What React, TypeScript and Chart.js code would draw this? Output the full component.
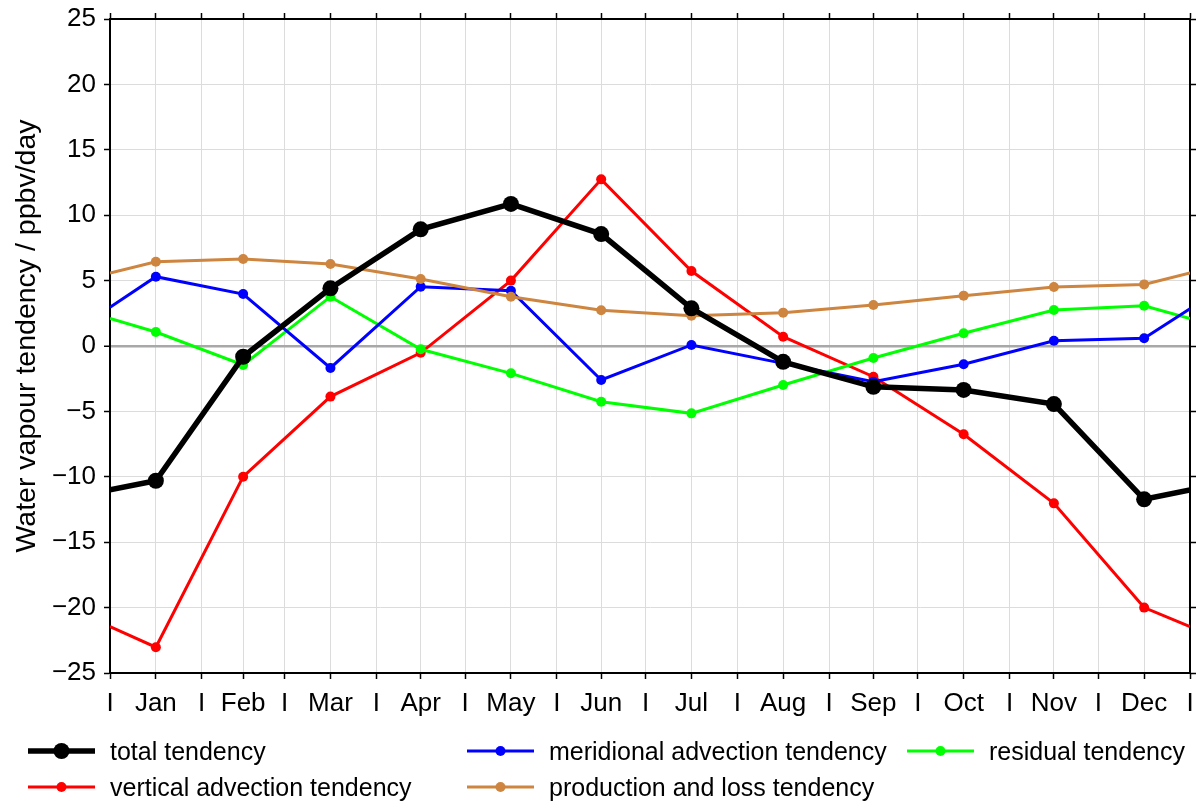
import React, { useEffect, useRef } from 'react';
import { Chart, registerables } from 'chart.js';

Chart.register(...registerables);

// ---- data ----
const MONTHS = ['Jan', 'Feb', 'Mar', 'Apr', 'May', 'Jun', 'Jul', 'Aug', 'Sep', 'Oct', 'Nov', 'Dec'];
const MONTH_BOUNDS = [0, 31, 59, 90, 120, 151, 181, 212, 243, 273, 304, 334, 365];
const MONTH_MIDS = [15.5, 45, 74.5, 105, 135.5, 166, 196.5, 227.5, 258, 288.5, 319, 349.5];
// x positions: left edge, 12 month midpoints, right edge (day of year)
const X_POS = [0, ...MONTH_MIDS, 365];

const TOTAL = [-11.0, -10.3, -0.82, 4.41, 8.92, 10.86, 8.56, 2.88, -1.21, -3.12, -3.36, -4.44, -11.72, -11.0];
const MERIDIONAL = [2.96, 5.3, 3.97, -1.68, 4.53, 4.23, -2.6, 0.08, -1.33, -2.73, -1.4, 0.4, 0.59, 2.85];
const RESIDUAL = [2.1, 1.07, -1.45, 3.77, -0.25, -2.09, -4.26, -5.15, -2.98, -0.92, 0.97, 2.75, 3.08, 2.1];
const VERTICAL = [-21.45, -23.03, -9.99, -3.87, -0.52, 5.0, 12.74, 5.73, 0.71, -2.35, -6.75, -12.03, -20.0, -21.45];
const PRODLOSS = [5.58, 6.44, 6.65, 6.27, 5.12, 3.77, 2.73, 2.32, 2.55, 3.13, 3.85, 4.51, 4.71, 5.58];

const Y_MIN = -25;
const Y_MAX = 25;
const Y_STEP = 5;
const Y_TITLE = 'Water vapour tendency / ppbv/day';

const FONT = "'Liberation Sans', Arial, Helvetica, sans-serif";

// combined x ticks: month boundaries (labelled "I") and midpoints (month names)
const X_TICKS: { value: number; label: string }[] = [];
MONTH_BOUNDS.forEach((b, i) => {
  X_TICKS.push({ value: b, label: 'I' });
  if (i < MONTH_MIDS.length) X_TICKS.push({ value: MONTH_MIDS[i], label: MONTHS[i] });
});

const SERIES = [
  { label: 'total tendency', data: TOTAL, color: '#000000', width: 5.5, radius: 8, order: 0 },
  { label: 'meridional advection tendency', data: MERIDIONAL, color: '#0000ff', width: 3, radius: 5, order: 2 },
  { label: 'residual tendency', data: RESIDUAL, color: '#00ff00', width: 3, radius: 5, order: 3 },
  { label: 'vertical advection tendency', data: VERTICAL, color: '#ff0000', width: 3, radius: 5, order: 4 },
  { label: 'production and loss tendency', data: PRODLOSS, color: '#cd853f', width: 3, radius: 5, order: 1 },
];

const LEGEND_POS = [
  { x: 28, y: 751 },
  { x: 467, y: 751 },
  { x: 907, y: 751 },
  { x: 28, y: 787 },
  { x: 467, y: 787 },
];

const fmtY = (v: number) => (v < 0 ? '\u2212' + Math.abs(v) : String(v));

// draws the y-axis title centred where the reference has it
const yTitlePlugin = {
  id: 'yTitle',
  afterDraw(chart: any) {
    const ctx = chart.ctx;
    ctx.save();
    ctx.translate(27, 336);
    ctx.rotate(-Math.PI / 2);
    ctx.font = `28.5px ${FONT}`;
    ctx.fillStyle = '#000';
    ctx.textAlign = 'center';
    ctx.textBaseline = 'middle';
    ctx.fillText(Y_TITLE, 0, 0);
    ctx.restore();
  },
};

export default function App() {
  const ref = useRef<HTMLCanvasElement>(null);

  useEffect(() => {
    const canvas = ref.current;
    if (!canvas) return;
    const setXTicks = (scale: any) => {
      scale.ticks = X_TICKS.map((t) => ({ value: t.value }));
    };
    const chart = new Chart(canvas, {
      type: 'line',
      data: {
        datasets: SERIES.map((s) => ({
          label: s.label,
          data: s.data.map((y, i) => ({ x: X_POS[i], y })),
          borderColor: s.color,
          backgroundColor: s.color,
          borderWidth: s.width,
          pointRadius: (ctx: any) => (ctx.dataIndex === 0 || ctx.dataIndex === s.data.length - 1 ? 0 : s.radius),
          pointHoverRadius: 0,
          pointBorderWidth: 0,
          pointBackgroundColor: s.color,
          tension: 0,
          fill: false,
          order: s.order,
        })),
      },
      plugins: [yTitlePlugin],
      options: {
        responsive: false,
        animation: false,
        devicePixelRatio: 1,
        layout: { padding: 0 },
        plugins: {
          legend: { display: false },
          tooltip: { enabled: false },
        },
        scales: {
          x: {
            type: 'linear',
            position: 'bottom',
            min: 0,
            max: 365,
            afterBuildTicks: setXTicks,
            afterFit: (scale: any) => {
              scale.height = 804 - 673;
              scale.paddingLeft = 0;
              scale.paddingRight = 0;
            },
            ticks: {
              autoSkip: false,
              maxRotation: 0,
              minRotation: 0,
              padding: 9,
              color: '#000',
              font: { family: FONT, size: 26 },
              callback: (_v: any, i: number) => X_TICKS[i]?.label ?? '',
            },
            grid: {
              color: '#dcdcdc',
              lineWidth: 1,
              tickColor: '#000',
              tickLength: 6,
              tickWidth: 1.5,
            },
            border: { display: true, color: '#000', width: 2 },
          },
          x2: {
            type: 'linear',
            position: 'top',
            min: 0,
            max: 365,
            afterBuildTicks: setXTicks,
            afterFit: (scale: any) => {
              scale.height = 19;
              scale.paddingLeft = 0;
              scale.paddingRight = 0;
            },
            ticks: { display: false },
            grid: {
              drawOnChartArea: false,
              tickColor: '#000',
              tickLength: 6,
              tickWidth: 1.5,
            },
            border: { display: true, color: '#000', width: 2 },
          },
          y: {
            type: 'linear',
            position: 'left',
            min: Y_MIN,
            max: Y_MAX,
            afterFit: (scale: any) => {
              scale.width = 110;
              scale.paddingTop = 0;
              scale.paddingBottom = 0;
            },
            ticks: {
              stepSize: Y_STEP,
              padding: 8,
              color: '#000',
              font: { family: FONT, size: 26 },
              callback: (v: any) => fmtY(Number(v)),
            },
            grid: {
              color: (ctx: any) => (ctx.tick && ctx.tick.value === 0 ? '#a8a8a8' : '#dcdcdc'),
              lineWidth: (ctx: any) => (ctx.tick && ctx.tick.value === 0 ? 2.5 : 1),
              tickColor: '#000',
              tickLength: 6,
              tickWidth: 1.5,
            },
            border: { display: true, color: '#000', width: 2 },
          },
          y2: {
            type: 'linear',
            position: 'right',
            min: Y_MIN,
            max: Y_MAX,
            afterFit: (scale: any) => {
              scale.width = 1203 - 1190;
              scale.paddingTop = 0;
              scale.paddingBottom = 0;
            },
            ticks: { display: false, stepSize: Y_STEP },
            grid: {
              drawOnChartArea: false,
              tickColor: '#000',
              tickLength: 6,
              tickWidth: 1.5,
            },
            border: { display: true, color: '#000', width: 2 },
          },
        },
      } as any,
    });
    return () => chart.destroy();
  }, []);

  return (
    <div style={{ position: 'fixed', left: 0, top: 0, width: 1203, height: 804, background: '#fff', overflow: 'hidden' }}>
      <canvas ref={ref} width={1203} height={804} style={{ width: 1203, height: 804, display: 'block' }} />
      {SERIES.map((s, i) => {
        const p = LEGEND_POS[i];
        return (
          <div
            key={s.label}
            style={{
              position: 'absolute',
              left: p.x,
              top: p.y - 15,
              height: 30,
              display: 'flex',
              alignItems: 'center',
              whiteSpace: 'nowrap',
            }}
          >
            <svg width={67} height={30} style={{ display: 'block' }}>
              <line x1={0} y1={15} x2={67} y2={15} stroke={s.color} strokeWidth={s.width} />
              <circle cx={33.5} cy={15} r={s.radius} fill={s.color} />
            </svg>
            <span
              style={{
                marginLeft: 15,
                fontFamily: FONT,
                fontSize: 25,
                lineHeight: '30px',
                color: '#000',
              }}
            >
              {s.label}
            </span>
          </div>
        );
      })}
    </div>
  );
}
